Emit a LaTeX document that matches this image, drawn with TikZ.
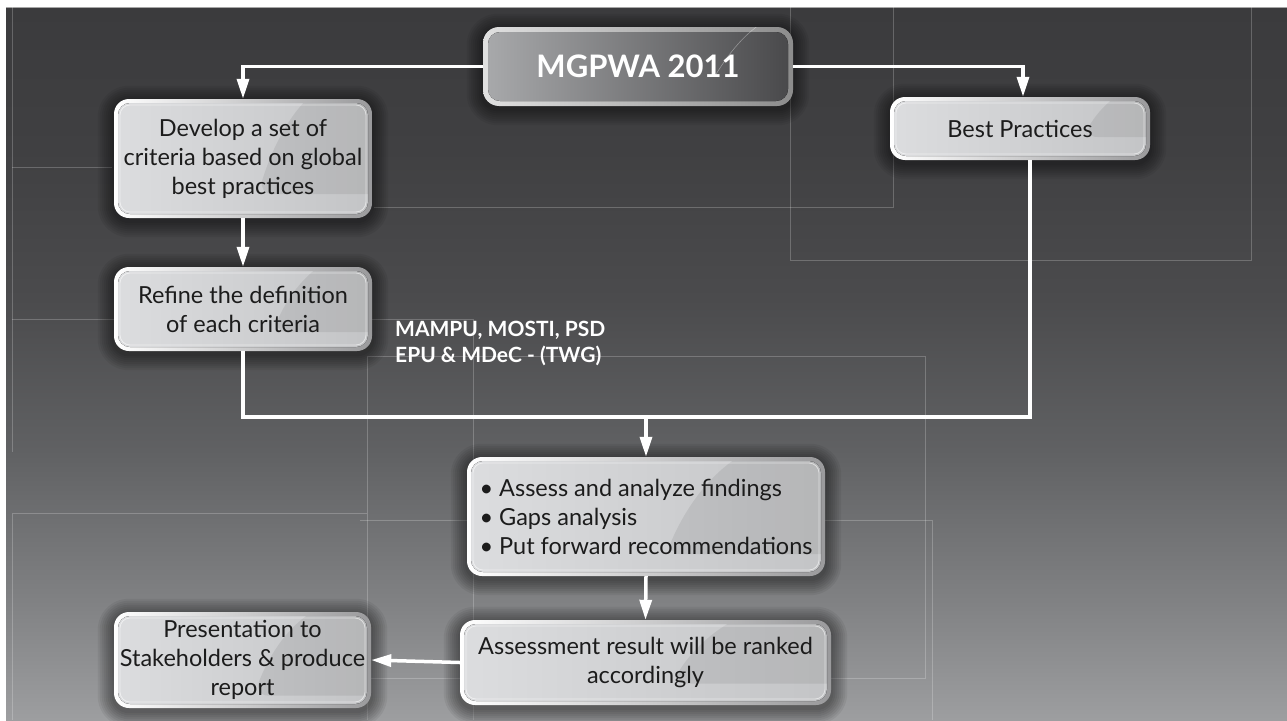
\documentclass[tikz,border=0pt]{standalone}
\usepackage{fontspec}
\setmainfont{Lato}
\usetikzlibrary{arrows.meta,calc}
\definecolor{txt}{HTML}{1C1C1C}
\definecolor{bgtop}{HTML}{3B3B3D}
\definecolor{bgA}{HTML}{404042}
\definecolor{bgB}{HTML}{4B4B4D}
\definecolor{bgC}{HTML}{606163}
\definecolor{bgD}{HTML}{808183}
\definecolor{bgbot}{HTML}{9D9EA0}
\definecolor{lin1}{HTML}{DCDDDF}
\definecolor{lin2}{HTML}{C3C4C6}
\definecolor{bord}{HTML}{9A9A9C}
\definecolor{din1}{HTML}{A9AAAC}
\definecolor{din2}{HTML}{48484A}
\pgfdeclareverticalshading{bgsh}{100bp}{color(0bp)=(bgbot); color(25bp)=(bgbot); color(33.4bp)=(bgD); color(43.9bp)=(bgC); color(54.5bp)=(bgB); color(65bp)=(bgA); color(75bp)=(bgtop); color(100bp)=(bgtop)}
\pgfdeclarelayer{bg}
\pgfdeclarelayer{shadow}
\pgfsetlayers{bg,shadow,main}
\tikzset{
  bgline/.style={draw=white, draw opacity=0.22, line width=0.8pt},
  gloss/.style={
    path picture={
      \fill[rounded corners=12pt, left color=lin1, right color=lin2]
        ([xshift=4pt,yshift=4pt]path picture bounding box.south west) rectangle
        ([xshift=-4pt,yshift=-4pt]path picture bounding box.north east);
      \begin{scope}
        \clip[rounded corners=12pt]
          ([xshift=4pt,yshift=4pt]path picture bounding box.south west) rectangle
          ([xshift=-4pt,yshift=-4pt]path picture bounding box.north east);
        \begin{scope}[shift={(path picture bounding box.south west)},
          x={($(path picture bounding box.south east)-(path picture bounding box.south west)$)},
          y={($(path picture bounding box.north west)-(path picture bounding box.south west)$)}]
          \fill[black, opacity=0.07] (0.52,0) .. controls (0.6,0.55) and (0.72,0.97) .. (0.95,1) -- (1,1) -- (1,0) -- cycle;
        \end{scope}
      \end{scope}
      \draw[white, opacity=0.55, line width=0.8pt, rounded corners=10pt]
        ([xshift=6pt,yshift=6pt]path picture bounding box.south west) rectangle
        ([xshift=-6pt,yshift=-6pt]path picture bounding box.north east);
    }},
  lbox/.style={rectangle, rounded corners=15pt, inner sep=0pt, align=center,
    text=txt, font=\fontsize{23.5}{29}\selectfont,
    left color=white, middle color=white, right color=bord, gloss},
  dbox/.style={rectangle, rounded corners=16pt, inner sep=0pt, align=center,
    text=white, font=\fontsize{31}{36}\selectfont\bfseries,
    left color=white!88!black, middle color=white!80!black, right color=white!55!black,
    path picture={
      \fill[rounded corners=12pt, left color=din1, right color=din2]
        ([xshift=5pt,yshift=5pt]path picture bounding box.south west) rectangle
        ([xshift=-5pt,yshift=-5pt]path picture bounding box.north east);
      \begin{scope}[shift={(path picture bounding box.south west)},
          x={($(path picture bounding box.south east)-(path picture bounding box.south west)$)},
          y={($(path picture bounding box.north west)-(path picture bounding box.south west)$)}]
        \draw[white, opacity=0.35, line width=0.6pt] (0.58,0.05) .. controls (0.66,0.55) and (0.75,0.9) .. (0.93,0.93);
      \end{scope}
    }},
  lbl/.style={text=white, font=\fontsize{21}{26}\selectfont\bfseries, align=left, inner sep=0pt},
  conn/.style={draw=white, line width=3.5pt},
  arr/.style={draw=white, line width=3.5pt, -{Triangle[width=12pt,length=20pt]}}
}
\begin{document}
\begin{tikzpicture}[x=1pt,y=-1pt]
\useasboundingbox (0,0) rectangle (1287,720);
\begin{pgfonlayer}{bg}
  \fill[white] (0,0) rectangle (1287,720);
  \shade[shading=bgsh] (6,7) rectangle (1287,720);
  \draw[white!65!black, line width=0.8pt] (6,7.4) -- (1287,7.4);
  \draw[bgline] (12,7) -- (12,452);
  \draw[bgline] (12,720) -- (12,513) -- (367,513);
  \draw[bgline] (790,7) -- (790,260) -- (1251,260) -- (1251,7);
  \draw[bgline] (893,7) -- (893,207) -- (374,207);
  \draw[bgline] (12,167) -- (112,167);
  \draw[bgline] (12,319) -- (473,319);
  \draw[bgline] (473,319) -- (473,720);
  \draw[bgline] (367,720) -- (367,356) -- (925,356) -- (925,678) -- (367,678);
  \draw[bgline] (360,520) -- (932,520) -- (932,720);
\end{pgfonlayer}

\node[dbox, minimum width=310pt, minimum height=79pt] (top) at (638,66.5) {MGPWA 2011};
\node[lbox, minimum width=258pt, minimum height=119pt] (dev) at (243,158.5) {Develop a set of\\criteria based on global\\best practices};
\node[lbox, minimum width=258pt, minimum height=84pt] (ref) at (243,309) {Refine the definition\\of each criteria};
\node[lbox, minimum width=260pt, minimum height=63pt] (best) at (1020,128.5) {Best Practices};
\node[lbox, minimum width=358pt, minimum height=119pt, align=left] (assess) at (646,516.5) {\textbullet\ Assess and analyze findings\\\textbullet\ Gaps analysis\\\textbullet\ Put forward recommendations};
\node[lbox, minimum width=371pt, minimum height=85pt] (result) at (645.5,662.5) {Assessment result will be ranked\\accordingly};
\node[lbox, minimum width=257pt, minimum height=96pt] (pres) at (242.5,660) {Presentation to\\Stakeholders \& produce\\report};
\node[lbl, anchor=north west] (twg) at (395,321) {MAMPU, MOSTI, PSD\\EPU \& MDeC - (TWG)};

\coordinate (j) at (646,417);
\draw[arr] (top.west) -| (dev.north);
\draw[arr] (top.east) -| ([xshift=3pt]best.north);
\draw[arr] (dev.south) -- (ref.north);
\draw[conn] (ref.south) |- (j) -| ([xshift=10pt]best.south);
\draw[arr] (j) -- (assess.north);
\draw[arr] (assess.south) -- (result.north);
\draw[arr] (result.west) -- (pres.east);

\begin{pgfonlayer}{shadow}
  \foreach \n in {top,dev,ref,best,assess,result,pres}{
    \foreach \e in {2,4,...,16}{
      \pgfmathsetmacro{\rr}{15+\e}
      \fill[black, opacity=0.06, rounded corners=\rr pt]
        ([xshift=-\e pt, yshift=-\e pt-3pt]\n.south west) rectangle
        ([xshift=\e pt, yshift=\e pt-3pt]\n.north east);
    }
  }
\end{pgfonlayer}
\end{tikzpicture}
\end{document}
